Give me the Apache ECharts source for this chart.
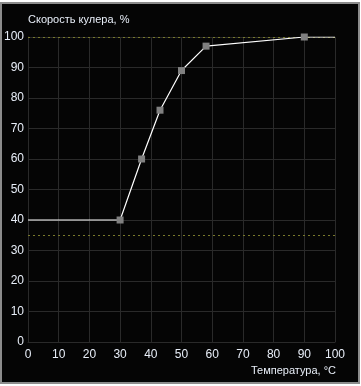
<!DOCTYPE html>
<html><head><meta charset="utf-8">
<script src="https://cdn.jsdelivr.net/npm/echarts@6/dist/echarts.min.js"></script>
<style>
html,body{margin:0;padding:0;background:#ffffff;width:361px;height:386px;overflow:hidden;}
#panel{position:absolute;left:0;top:2px;width:360px;height:382px;box-sizing:border-box;border:2px solid #8c8c8c;background:#050505;}
#chart{position:absolute;left:0;top:0;width:361px;height:386px;}
</style></head>
<body>
<div id="panel"></div>
<div id="chart"></div>
<script>
// Data
const temps  = [0, 30, 37, 43, 50, 58, 90, 100];
const speeds = [40, 40, 60, 76, 89, 97, 100, 100];
const controlPoint = [false, true, true, true, true, true, true, false];
const refLines = [100, 35];
const xTicks = [0, 100, 10];
const yTicks = [0, 100, 10];
const yTitle = 'Скорость кулера, %';
const xTitle = 'Температура, °С';

const font = 'Liberation Sans, Arial, sans-serif';
const textColor = '#e8eef8';
const chart = echarts.init(document.getElementById('chart'), null, {renderer: 'canvas'});
chart.setOption({
  animation: false,
  backgroundColor: 'transparent',
  grid: {left: 28, right: 26, top: 37, bottom: 44, containLabel: false},
  xAxis: {
    type: 'value', min: xTicks[0], max: xTicks[1], interval: xTicks[2],
    axisLine: {show: true, lineStyle: {color: '#2a2a2a', width: 1}},
    axisTick: {show: false},
    splitLine: {show: true, lineStyle: {color: '#2a2a2a', width: 1}},
    axisLabel: {color: textColor, fontSize: 12, fontFamily: font, margin: 7}
  },
  yAxis: {
    type: 'value', min: yTicks[0], max: yTicks[1], interval: yTicks[2],
    axisLine: {show: true, lineStyle: {color: '#2a2a2a', width: 1}},
    axisTick: {show: false},
    splitLine: {show: true, lineStyle: {color: '#2a2a2a', width: 1}},
    axisLabel: {color: textColor, fontSize: 12, fontFamily: font, margin: 4}
  },
  graphic: [
    {type: 'text', left: 28, top: 14, style: {text: yTitle, fill: textColor, font: '11px ' + font}},
    {type: 'text', right: 25, top: 365, style: {text: xTitle, fill: textColor, font: '11px ' + font}}
  ],
  series: [{
    type: 'line',
    data: temps.map((t, i) => ({
      value: [t, speeds[i]],
      symbol: controlPoint[i] ? 'rect' : 'none'
    })),
    symbolSize: 7,
    showAllSymbol: true,
    itemStyle: {color: '#808080', borderWidth: 0},
    lineStyle: {color: '#ffffff', width: 1.2},
    z: 5,
    markLine: {
      silent: true,
      symbol: ['none', 'none'],
      label: {show: false},
      lineStyle: {color: '#7a7a2c', type: [2, 3], width: 1},
      data: refLines.map(v => ({yAxis: v}))
    }
  }]
});
</script>
</body></html>
